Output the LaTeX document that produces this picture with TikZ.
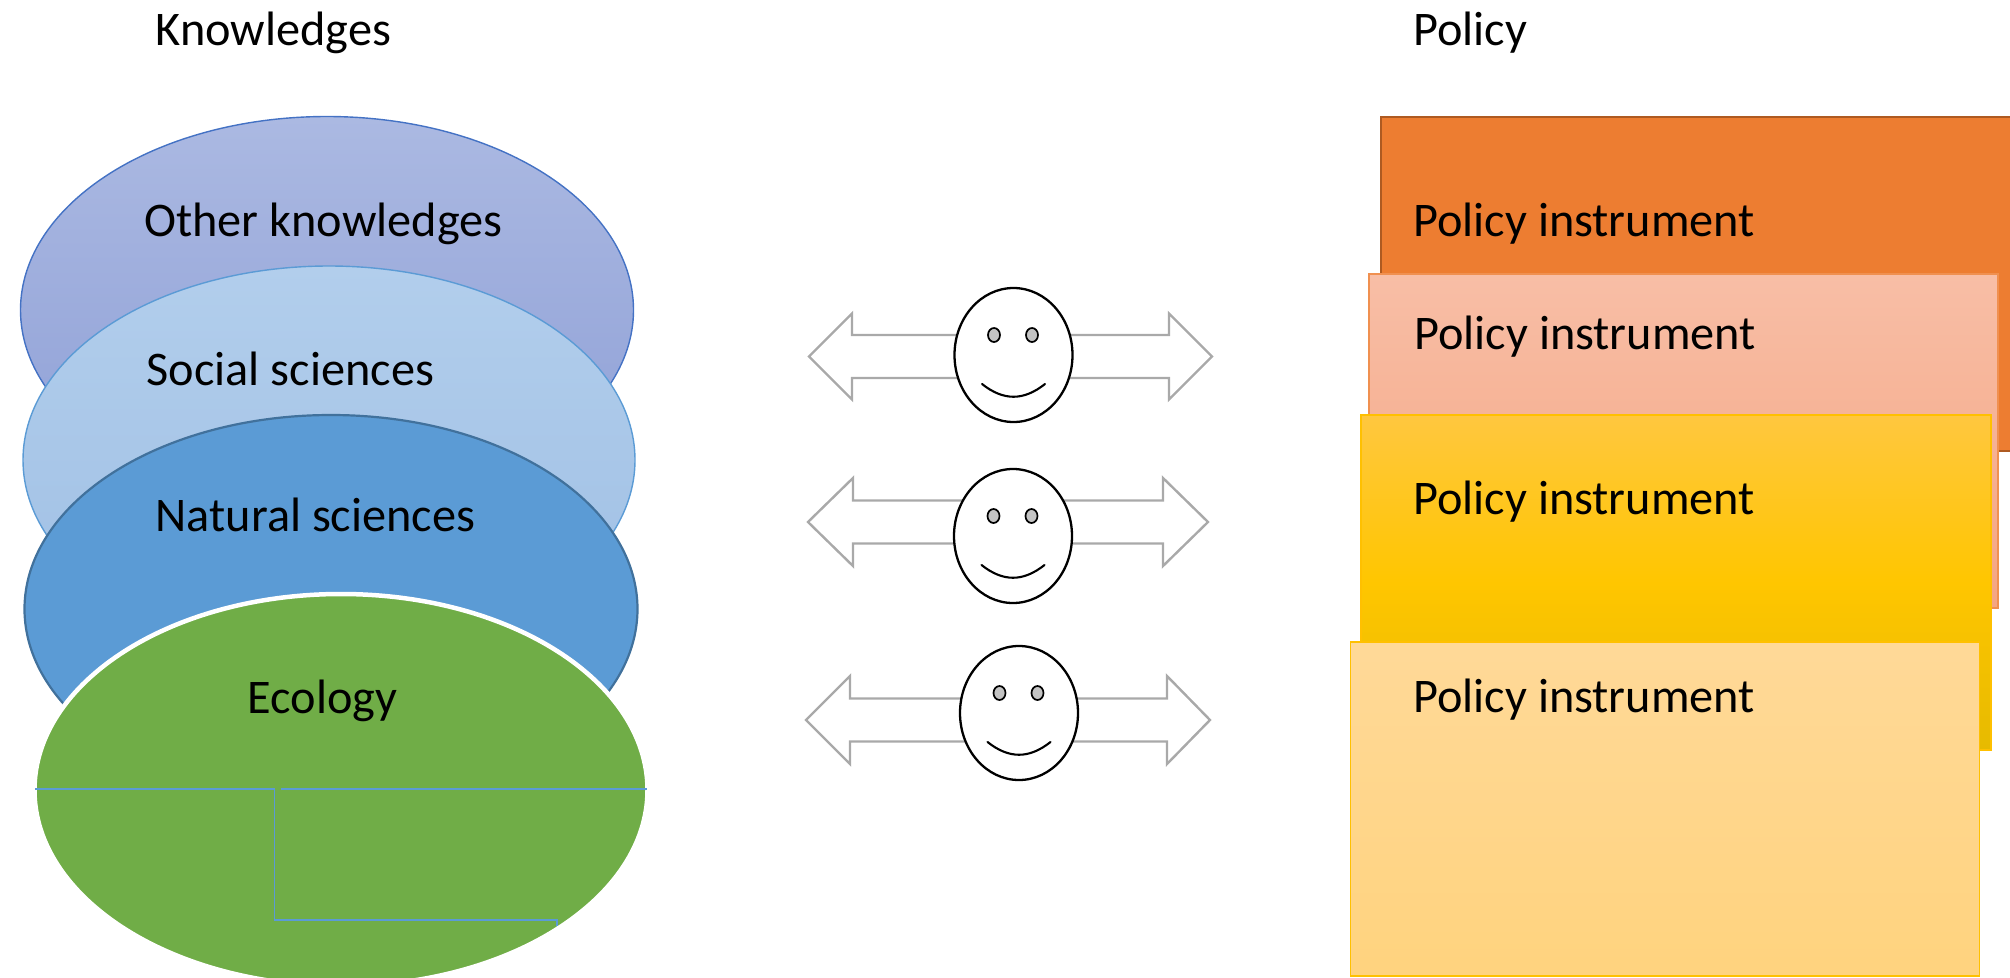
\documentclass[tikz,border=0pt]{standalone}
\usepackage{fontspec}
\setmainfont{Carlito}
\usetikzlibrary{shapes.geometric}
\definecolor{eOneTop}{HTML}{ABB9E2}
\definecolor{eOneBot}{HTML}{8E9FD6}
\definecolor{eOneEdge}{HTML}{4472C4}
\definecolor{eTwoTop}{HTML}{B2CEEC}
\definecolor{eTwoBot}{HTML}{9FBFE4}
\definecolor{eTwoEdge}{HTML}{5B9BD5}
\definecolor{eThree}{HTML}{5B9BD5}
\definecolor{eThreeEdge}{HTML}{41719C}
\definecolor{eFour}{HTML}{70AD47}
\definecolor{rOne}{HTML}{ED7D31}
\definecolor{rOneEdge}{HTML}{AE5A21}
\definecolor{rTwoTop}{HTML}{F8BEA6}
\definecolor{rTwoBot}{HTML}{F4A582}
\definecolor{rThreeTop}{HTML}{FFC73F}
\definecolor{rThreeMid}{HTML}{FFC600}
\definecolor{rThreeBot}{HTML}{E6BA00}
\definecolor{rFourTop}{HTML}{FFD998}
\definecolor{rFourBot}{HTML}{FFD37E}
\definecolor{rEdge}{HTML}{FFC000}
\definecolor{arrowGrey}{HTML}{A9A9A9}
\definecolor{eyeGrey}{HTML}{C4C4C4}
\definecolor{guide}{HTML}{5B9BD5}
\tikzset{
  blob/.style={ellipse,inner sep=0pt,outer sep=0pt,line width=1.4pt},
  sheet/.style={rectangle,inner sep=0pt,outer sep=0pt,line width=1.6pt},
  label/.style={anchor=base west,inner sep=0pt,font=\fontsize{48.3}{48}\selectfont,text=black},
  face/.style={ellipse,draw=black,fill=white,line width=2.3pt,minimum width=118pt,minimum height=134pt,inner sep=0pt,outer sep=0pt},
  eye/.style={ellipse,draw=black,fill=eyeGrey,line width=1.7pt,minimum width=12pt,minimum height=14pt,inner sep=0pt,outer sep=0pt},
  dblarrow/.style={draw=arrowGrey,line width=2.4pt,line join=miter},
  smile/.style={draw=black,line width=2.1pt,line cap=round},
  guideline/.style={draw=guide,line width=1.1pt}
}
\newcommand{\biarrow}[6]{% tip L, back L, back R, tip R, centre y, (half head)
  \draw[dblarrow] (#1,#5) -- (#2,#5-#6) -- (#2,#5-21.5) -- (#3,#5-21.5) -- (#3,#5-#6) -- (#4,#5) -- (#3,#5+#6) -- (#3,#5+21.5) -- (#2,#5+21.5) -- (#2,#5+#6) -- cycle;}
\newcommand{\smiley}[3]{% name, cx, cy
  \node[face] (#1) at (#2,#3) {};
  \node[eye] (#1eyeL) at (#2-19.5,#3-20) {};
  \node[eye] (#1eyeR) at (#2+18.5,#3-20) {};
  \draw[smile] (#2-31.5,#3+29) .. controls (#2-10,#3+46) and (#2+10,#3+46) .. (#2+31.5,#3+29);}
\begin{document}
\begin{tikzpicture}[x=1pt,y=-1pt]
\path[use as bounding box] (0,0) rectangle (2010,977);
\clip (0,0) rectangle (2010,977);
% ellipses
\node[blob,draw=eOneEdge,top color=eOneTop,bottom color=eOneBot,minimum width=613pt,minimum height=387pt] (e1) at (327,310) {};
\node[blob,draw=eTwoEdge,top color=eTwoTop,bottom color=eTwoBot,minimum width=612pt,minimum height=388pt] (e2) at (329,460) {};
\node[blob,draw=eThreeEdge,fill=eThree,line width=2.2pt,minimum width=613pt,minimum height=388pt] (e3) at (331,609) {};
\node[blob,draw=white,fill=eFour,line width=4.5pt,minimum width=613pt,minimum height=392pt] (e4) at (341,790) {};
% stray guide lines in the ecology ellipse
\coordinate (g1) at (35,789);
\coordinate (g2) at (274.5,789);
\coordinate (g3) at (281,789);
\coordinate (g4) at (647,789);
\coordinate (g5) at (274.5,920);
\coordinate (g6) at (557,920);
\coordinate (g7) at (557,926);
\draw[guideline] (g1) -- (g2) -- (g5) -- (g6) -- (g7);
\draw[guideline] (g3) -- (g4);
% rectangles
\node[sheet,anchor=north west,draw=rOneEdge,fill=rOne,line width=2.2pt,minimum width=660pt,minimum height=334pt] (r1) at (1381,117) {};
\node[sheet,anchor=north west,draw=rOne!85!white,top color=rTwoTop,bottom color=rTwoBot,minimum width=629pt,minimum height=334pt] (r2) at (1369,274) {};
\node[sheet,anchor=north west,draw=rEdge,top color=rThreeTop,bottom color=rThreeBot,middle color=rThreeMid,minimum width=630pt,minimum height=335pt] (r3) at (1361,415) {};
\node[sheet,anchor=north west,draw=rEdge,top color=rFourTop,bottom color=rFourBot,minimum width=629pt,minimum height=334pt] (r4) at (1350.5,642) {};
% arrows and faces
\biarrow{809}{852}{1169}{1212}{356.5}{43}
\smiley{f1}{1013.5}{355}
\biarrow{808}{853}{1163}{1208}{522}{44}
\smiley{f2}{1013}{536}
\biarrow{806}{850}{1167}{1210}{720}{44}
\smiley{f3}{1019}{713}
% texts
\node[label] (tK) at (155.5,45) {Knowledges};
\node[label] (tP) at (1413,45) {Policy};
\node[label] (t1) at (144,236) {Other knowledges};
\node[label] (t2) at (146.5,385) {Social sciences};
\node[label] (t3) at (155.5,531) {Natural sciences};
\node[label] (t4) at (247.5,713) {Ecology};
\node[label] (p1) at (1413,236) {Policy instrument};
\node[label] (p2) at (1414,349) {Policy instrument};
\node[label] (p3) at (1413,514) {Policy instrument};
\node[label] (p4) at (1413,712) {Policy instrument};
\end{tikzpicture}
\end{document}
